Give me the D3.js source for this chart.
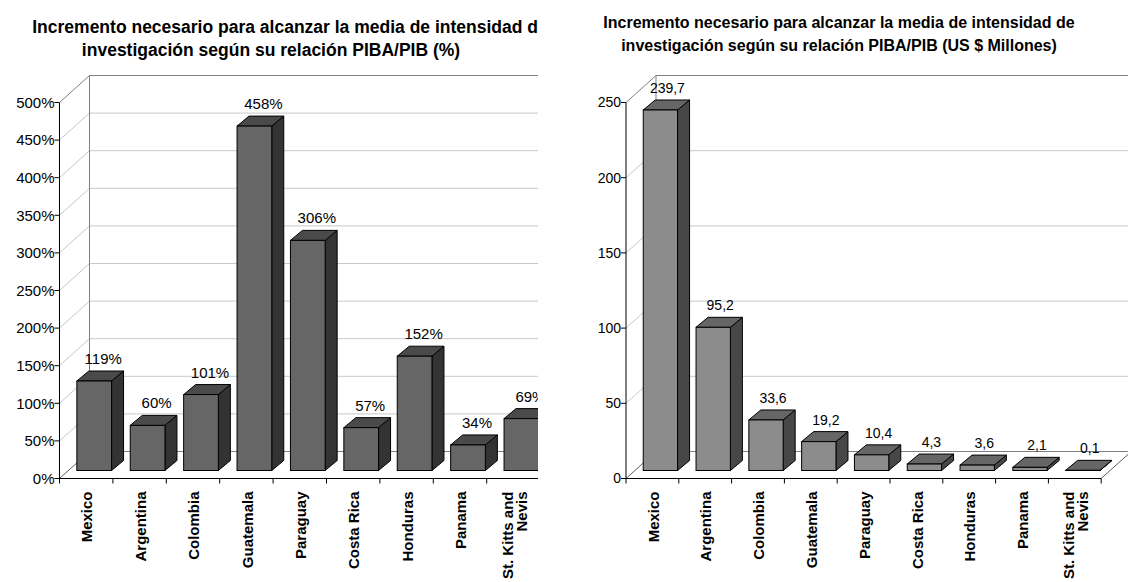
<!DOCTYPE html>
<html>
<head>
<meta charset="utf-8">
<script src="https://cdn.jsdelivr.net/npm/d3@7"></script>
<style>
  html, body { margin: 0; padding: 0; background: #fff; }
  svg { display: block; }
  text { font-family: Arial, "Liberation Sans", sans-serif; fill: #000; }
</style>
</head>
<body>
<svg id="chart" width="1128" height="582"></svg>
<script>
// Categories shared by both panels
const categories = ["Mexico", "Argentina", "Colombia", "Guatemala", "Paraguay",
                    "Costa Rica", "Honduras", "Panama", "St. Kitts and Nevis"];

// Left panel: required increase, percent
const pctValues = [119, 60, 101, 458, 306, 57, 152, 34, 69];
const pctTicks = [0, 50, 100, 150, 200, 250, 300, 350, 400, 450, 500];

// Right panel: required increase, US$ millions
const usdValues = [239.7, 95.2, 33.6, 19.2, 10.4, 4.3, 3.6, 2.1, 0.1];
const usdTicks = [0, 50, 100, 150, 200, 250];

const titleLeft = ["Incremento necesario para alcanzar la media de intensidad de",
                   "investigación según su relación PIBA/PIB (%)"];
const titleRight = ["Incremento necesario para alcanzar la media de intensidad de",
                    "investigación según su relación PIBA/PIB (US $ Millones)"];

const svg = d3.select("#chart");

// oblique depth of the plot box and of each bar
const WALL_DX = 30, WALL_DY = -27;
const BAR_DX = 8, BAR_DY = -8;      // front face of bars sits slightly inside the floor
const SIDE_DX = 12, SIDE_DY = -10;  // bar thickness

function drawPanel(opt) {
  const g = svg.append("g");
  if (opt.clip) {
    svg.append("defs").append("clipPath").attr("id", opt.clip.id)
      .append("rect").attr("x", 0).attr("y", 0)
      .attr("width", opt.clip.width).attr("height", 582);
    g.attr("clip-path", `url(#${opt.clip.id})`);
  }

  const x = d3.scaleBand()
    .domain(categories)
    .range([opt.x0, opt.x0 + opt.step * categories.length])
    .paddingInner(0.35)
    .paddingOuter(0.175);
  const y = d3.scaleLinear().domain([0, opt.max]).range([opt.y0, opt.y1]);

  const xL = x.range()[0], xR = x.range()[1];
  const yB = y(0), yT = y(opt.max);

  // title
  const t = g.append("text")
    .attr("text-anchor", "middle")
    .style("font-weight", "bold")
    .style("font-size", opt.titleSize + "px");
  opt.title.forEach((line, i) => {
    t.append("tspan").attr("x", opt.titleX[i]).attr("y", opt.titleY + i * opt.titleGap).text(line);
  });

  // side wall diagonals and back-wall gridlines
  g.append("g").selectAll("line.diag")
    .data(opt.ticks.filter(d => d !== 0 && d !== opt.max))
    .join("line")
    .attr("x1", xL).attr("y1", d => y(d))
    .attr("x2", xL + WALL_DX).attr("y2", d => y(d) + WALL_DY)
    .attr("stroke", "#c8c8c8").attr("stroke-width", 1);
  g.append("g").selectAll("line.grid")
    .data(opt.ticks.filter(d => d !== opt.max))
    .join("line")
    .attr("x1", xL + WALL_DX).attr("y1", d => y(d) + WALL_DY)
    .attr("x2", xR + WALL_DX).attr("y2", d => y(d) + WALL_DY)
    .attr("stroke", d => d === 0 ? "#808080" : "#c8c8c8").attr("stroke-width", 1);

  // wall outline
  g.append("path")
    .attr("d", `M${xL},${yT} L${xL + WALL_DX},${yT + WALL_DY} L${xR + WALL_DX},${yT + WALL_DY}` +
               ` M${xL + WALL_DX},${yT + WALL_DY} L${xL + WALL_DX},${yB + WALL_DY}`)
    .attr("fill", "none").attr("stroke", "#808080").attr("stroke-width", 1);
  // floor edges
  g.append("path")
    .attr("d", `M${xL},${yB} L${xL + WALL_DX},${yB + WALL_DY} M${xR},${yB} L${xR + WALL_DX},${yB + WALL_DY}`)
    .attr("fill", "none").attr("stroke", "#606060").attr("stroke-width", 1);

  // bars
  const bars = g.append("g").selectAll("g.bar")
    .data(categories.map((c, i) => ({ c, v: opt.values[i] })))
    .join("g");
  const bw = x.bandwidth();
  bars.each(function (d) {
    const b = d3.select(this);
    const fx = x(d.c) + BAR_DX;
    const fy = y(d.v) + BAR_DY;
    const fb = yB + BAR_DY;
    b.append("polygon")
      .attr("points", [[fx + bw, fy], [fx + bw + SIDE_DX, fy + SIDE_DY],
                       [fx + bw + SIDE_DX, fb + SIDE_DY], [fx + bw, fb]].join(" "))
      .attr("fill", opt.colors.side).attr("stroke", "#000").attr("stroke-width", 1)
      .attr("stroke-linejoin", "round");
    b.append("polygon")
      .attr("points", [[fx, fy], [fx + SIDE_DX, fy + SIDE_DY],
                       [fx + bw + SIDE_DX, fy + SIDE_DY], [fx + bw, fy]].join(" "))
      .attr("fill", opt.colors.top).attr("stroke", "#000").attr("stroke-width", 1)
      .attr("stroke-linejoin", "round");
    b.append("rect")
      .attr("x", fx).attr("y", fy).attr("width", bw).attr("height", Math.max(0, fb - fy))
      .attr("fill", opt.colors.front).attr("stroke", "#000").attr("stroke-width", 1);
    b.append("text")
      .attr("x", x(d.c) + x.bandwidth() / 2 + opt.labelDX)
      .attr("y", fy + SIDE_DY - 7)
      .attr("text-anchor", "middle")
      .style("font-size", opt.valueSize + "px")
      .text(opt.format(d.v));
  });

  // value axis
  const axisG = g.append("g");
  axisG.append("line")
    .attr("x1", xL).attr("y1", yT).attr("x2", xL).attr("y2", yB + 5)
    .attr("stroke", "#000");
  axisG.selectAll("line.tick").data(opt.ticks).join("line")
    .attr("x1", xL - 5).attr("x2", xL).attr("y1", d => y(d)).attr("y2", d => y(d))
    .attr("stroke", "#000");
  axisG.selectAll("text").data(opt.ticks).join("text")
    .attr("x", xL - 5).attr("y", d => y(d)).attr("dy", "0.35em")
    .attr("text-anchor", "end")
    .style("font-size", opt.tickSize + "px")
    .text(opt.tickFormat);

  // category axis
  const catG = g.append("g");
  catG.append("line")
    .attr("x1", xL).attr("y1", yB).attr("x2", xR).attr("y2", yB)
    .attr("stroke", "#000");
  catG.selectAll("line.tick").data(d3.range(1, categories.length + 1)).join("line")
    .attr("x1", i => xL + i * x.step()).attr("x2", i => xL + i * x.step())
    .attr("y1", yB).attr("y2", yB + 5)
    .attr("stroke", "#000");

  const labels = catG.selectAll("g.lab").data(categories).join("g")
    .attr("transform", c => `translate(${x(c) + x.bandwidth() / 2 + 1},${yB + 13}) rotate(-90)`);
  labels.each(function (c) {
    const words = c === "St. Kitts and Nevis" ? ["St. Kitts and", "Nevis"] : [c];
    const txt = d3.select(this).append("text")
      .attr("text-anchor", "end")
      .style("font-weight", "bold")
      .style("font-size", "15px");
    words.forEach((w, i) => {
      txt.append("tspan").attr("x", 0)
        .attr("y", (i - (words.length - 1) / 2) * 14)
        .attr("dy", "0.35em")
        .text(w);
    });
  });
}

drawPanel({
  clip: { id: "leftClip", width: 538 },
  x0: 59.5, step: 53.4, y0: 478.5, y1: 102.5, max: 500,
  values: pctValues, ticks: pctTicks,
  tickFormat: d => d + "%",
  format: d => d + "%",
  colors: { front: "#666666", top: "#4a4a4a", side: "#333333" },
  labelDX: 17, valueSize: 15, tickSize: 15,
  title: titleLeft, titleX: [290, 271], titleY: 33, titleGap: 23, titleSize: 17.5
});

drawPanel({
  x0: 626, step: 52.8, y0: 478.5, y1: 102.5, max: 250,
  values: usdValues, ticks: usdTicks,
  tickFormat: d => d,
  format: d => d.toFixed(1).replace(".", ","),
  colors: { front: "#8c8c8c", top: "#666666", side: "#474747" },
  labelDX: 15, valueSize: 14, tickSize: 14,
  title: titleRight, titleX: [839, 839], titleY: 28, titleGap: 23, titleSize: 16
});
</script>
</body>
</html>
